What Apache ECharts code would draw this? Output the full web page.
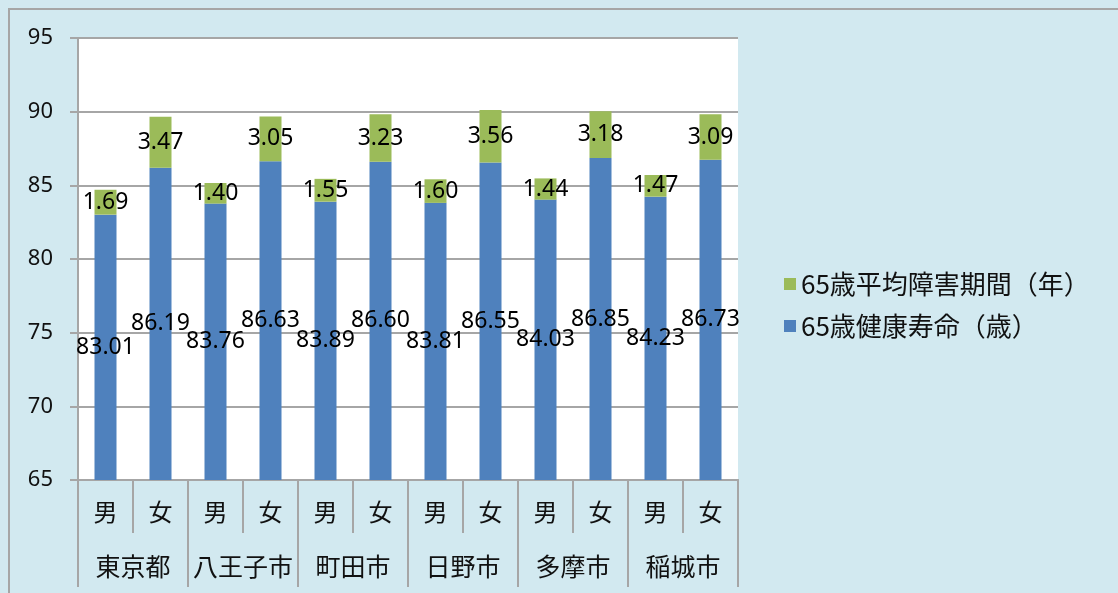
<!DOCTYPE html>
<html>
<head>
<meta charset="utf-8">
<script src="https://cdn.jsdelivr.net/npm/echarts@6/dist/echarts.min.js"></script>
<style>
  html, body { margin: 0; padding: 0; background: #d2e9f0; }
  #main { width: 1118px; height: 593px; }
</style>
</head>
<body>
<div id="main"></div>
<script>
// 性別・自治体
var sexes = ['男', '女', '男', '女', '男', '女', '男', '女', '男', '女', '男', '女'];
var cities = ['東京都', '八王子市', '町田市', '日野市', '多摩市', '稲城市'];
// 65歳健康寿命（歳）
var healthyLife = [83.01, 86.19, 83.76, 86.63, 83.89, 86.60, 83.81, 86.55, 84.03, 86.85, 84.23, 86.73];
// 65歳平均障害期間（年）
var disability = [1.69, 3.47, 1.40, 3.05, 1.55, 3.23, 1.60, 3.56, 1.44, 3.18, 1.47, 3.09];

var cjk = '"Noto Sans CJK JP", sans-serif';
var num = '"Noto Sans", sans-serif';
var gray = '#a6a6a6';

var myChart = echarts.init(document.getElementById('main'));
myChart.setOption({
    backgroundColor: '#d2e9f0',
    animation: false,
    graphic: [{
        type: 'rect',
        shape: { x: 9, y: 9, width: 1120, height: 600 },
        style: { fill: 'none', stroke: gray, lineWidth: 2 },
        z: -1
    }],
    legend: {
        orient: 'vertical',
        left: 779,
        top: 266,
        itemWidth: 12,
        itemHeight: 12,
        itemGap: 16,
        icon: 'rect',
        textStyle: { fontFamily: cjk, fontSize: 26, color: '#111' },
        data: ['65歳平均障害期間（年）', '65歳健康寿命（歳）']
    },
    grid: {
        left: 78, right: 380, top: 38, bottom: 113,
        show: true, backgroundColor: '#fff', borderWidth: 0
    },
    xAxis: [{
        type: 'category',
        data: sexes,
        position: 'bottom',
        axisLine: { show: true, lineStyle: { color: gray, width: 2 } },
        axisTick: { show: true, interval: 0, alignWithLabel: false, length: 53, lineStyle: { color: gray, width: 2 } },
        axisLabel: { interval: 0, margin: 20, fontFamily: cjk, fontSize: 24, color: '#111' }
    }, {
        type: 'category',
        data: cities,
        position: 'bottom',
        axisLine: { show: true, lineStyle: { color: gray, width: 2 } },
        axisTick: { show: true, interval: 0, alignWithLabel: false, length: 107, lineStyle: { color: gray, width: 2 } },
        axisLabel: { interval: 0, margin: 74, fontFamily: cjk, fontSize: 25, color: '#111' }
    }],
    yAxis: {
        type: 'value',
        min: 65,
        max: 95,
        interval: 5,
        axisLine: { show: true, lineStyle: { color: gray, width: 2 } },
        axisTick: { show: true, length: 8, lineStyle: { color: gray, width: 2 } },
        axisLabel: { margin: 25, fontFamily: num, fontSize: 22, color: '#111' },
        splitLine: { show: true, lineStyle: { color: gray, width: 2 } }
    },
    series: [{
        name: '65歳健康寿命（歳）',
        type: 'bar',
        stack: 'total',
        barWidth: '40%',
        data: healthyLife,
        itemStyle: { color: '#4f81bd' },
        label: {
            show: true, position: 'inside', color: '#000',
            fontFamily: num, fontSize: 23,
            formatter: function (p) { return p.value.toFixed(2); }
        }
    }, {
        name: '65歳平均障害期間（年）',
        type: 'bar',
        stack: 'total',
        barWidth: '40%',
        data: disability,
        itemStyle: { color: '#9bbb59' },
        label: {
            show: true, position: 'inside', color: '#000',
            fontFamily: num, fontSize: 23,
            formatter: function (p) { return p.value.toFixed(2); }
        }
    }]
});
</script>
</body>
</html>
